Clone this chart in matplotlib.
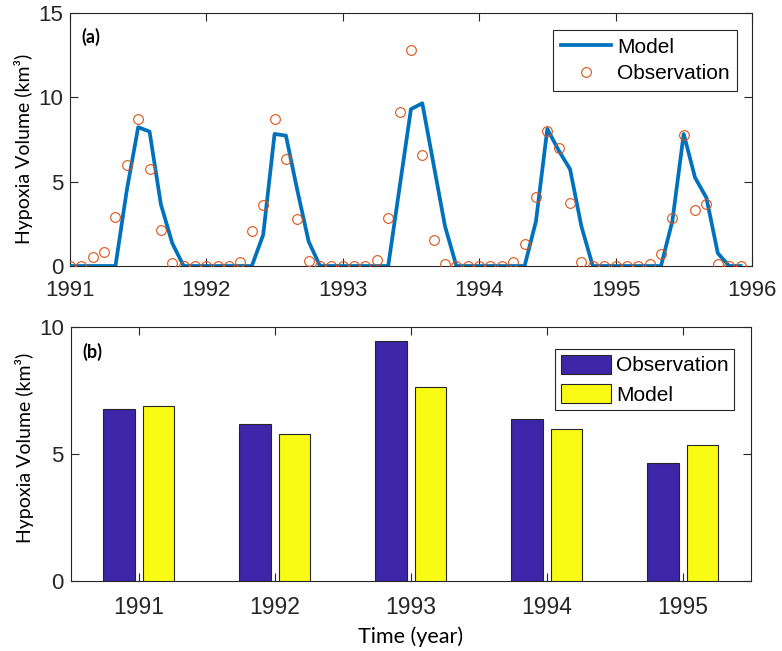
import matplotlib
matplotlib.use("Agg")
import matplotlib.pyplot as plt
import numpy as np

# monthly series, Jan 1991 .. Dec 1995
obs_monthly = [
    0, 0, 0.55, 0.82, 2.9, 5.98, 8.73, 5.74, 2.11, 0.16, 0, 0,
    0, 0, 0, 0.22, 2.05, 3.59, 8.73, 6.37, 2.81, 0.32, 0, 0,
    0, 0, 0, 0.36, 2.83, 9.12, 12.8, 6.57, 1.55, 0.12, 0, 0,
    0, 0, 0, 0.26, 1.3, 4.1, 8.0, 7.0, 3.75, 0.26, 0, 0,
    0, 0, 0, 0.1, 0.72, 2.85, 7.79, 3.35, 3.69, 0.12, 0, 0,
]
model_monthly = [
    0, 0, 0, 0, 0, 4.5, 8.23, 7.97, 3.65, 1.35, 0, 0,
    0, 0, 0, 0, 0, 1.85, 7.83, 7.73, 4.5, 1.45, 0, 0,
    0, 0, 0, 0, 0, 4.66, 9.3, 9.65, 6.0, 2.35, 0, 0,
    0, 0, 0, 0, 0, 2.65, 8.13, 6.85, 5.74, 2.35, 0, 0,
    0, 0, 0, 0, 0, 2.65, 7.83, 5.24, 4.04, 0.76, 0, 0,
]
start_year = 1991

# annual peak volumes
years = ["1991", "1992", "1993", "1994", "1995"]
obs_annual = [6.78, 6.19, 9.45, 6.35, 4.65]
model_annual = [6.9, 5.77, 7.61, 5.96, 5.35]

blue = "#0072BD"
orange = "#D95319"
purple = "#3E26A8"
yellow = "#F9FB15"
axcol = "#262626"

plt.rcParams["font.family"] = ["Liberation Sans", "DejaVu Sans"]
label_font = ["Lato", "DejaVu Sans"]

fig = plt.figure(figsize=(7.82, 6.51), dpi=100)
ax1 = fig.add_axes([0.0895, 0.5914, 0.872, 0.3886])
ax2 = fig.add_axes([0.0904, 0.108, 0.8696, 0.390])

t = start_year + np.arange(len(obs_monthly)) / 12.0
ax1.plot(t, model_monthly, color=blue, lw=2.7, label="Model", zorder=3)
ax1.plot(t, obs_monthly, ls="none", marker="o", ms=7, mfc="none",
         mec=orange, mew=0.8, label="Observation", zorder=4)
ax1.set_xlim(1991, 1996)
ax1.set_ylim(0, 15)
ax1.set_xticks(range(1991, 1997))
ax1.set_yticks([0, 5, 10, 15])
ax1.set_ylabel("Hypoxia Volume (km³)", family=label_font, fontsize=14)
ax1.yaxis.set_label_coords(-0.054, 0.462)
ax1.text(0.017, 0.905, "(a)", transform=ax1.transAxes, family=label_font,
         fontsize=13, fontweight="bold", ha="left", va="center")
leg1 = ax1.legend(loc="upper right", bbox_to_anchor=(0.978, 0.932), fontsize=15,
                  fancybox=False, framealpha=1, edgecolor=axcol,
                  handlelength=2.4, handletextpad=0.3, borderpad=0.35,
                  labelspacing=0.38, borderaxespad=0)
leg1.get_frame().set_linewidth(0.8)

x = np.arange(1, len(years) + 1)
ax2.bar(x - 0.145, obs_annual, width=0.23, color=purple, edgecolor=axcol,
        lw=0.8, label="Observation", zorder=3)
ax2.bar(x + 0.145, model_annual, width=0.23, color=yellow, edgecolor=axcol,
        lw=0.8, label="Model", zorder=3)
ax2.set_xlim(0.5, 5.5)
ax2.set_ylim(0, 10)
ax2.set_xticks(x)
ax2.set_xticklabels(years)
ax2.set_yticks([0, 5, 10])
ax2.set_ylabel("Hypoxia Volume (km³)", family=label_font, fontsize=14)
ax2.yaxis.set_label_coords(-0.054, 0.524)
ax2.set_xlabel("Time (year)", family=label_font, fontsize=15.5, labelpad=5)
ax2.text(0.017, 0.9, "(b)", transform=ax2.transAxes, family=label_font,
         fontsize=13, fontweight="bold", ha="left", va="center")
leg2 = ax2.legend(loc="upper right", bbox_to_anchor=(0.976, 0.913), fontsize=15,
                  fancybox=False, framealpha=1, edgecolor=axcol,
                  handlelength=2.4, handleheight=1.05, handletextpad=0.25,
                  borderpad=0.28, labelspacing=0.4, borderaxespad=0)
leg2.get_frame().set_linewidth(0.8)

for ax in (ax1, ax2):
    for s in ax.spines.values():
        s.set_color(axcol)
        s.set_linewidth(0.8)
    ax.tick_params(direction="in", length=6, width=0.8, color=axcol,
                   top=True, right=True, labelsize=16, labelcolor=axcol, pad=5)
ax1.tick_params(axis="x", pad=10)
ax2.tick_params(axis="x", pad=11, labelsize=16.5)

fig.savefig("out.png", dpi=100)
